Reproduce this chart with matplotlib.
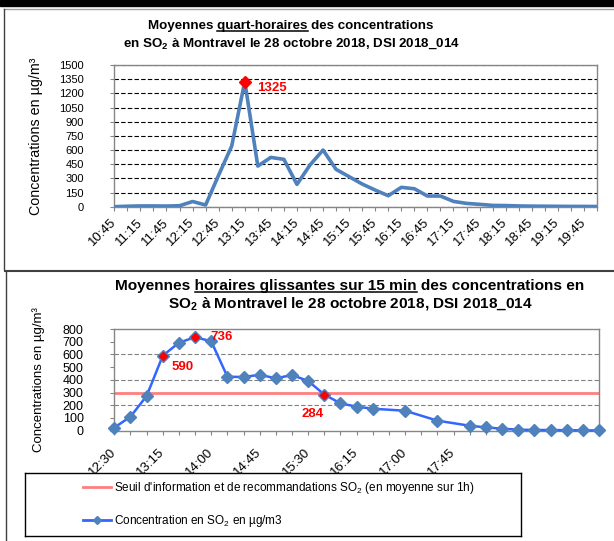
import matplotlib
matplotlib.use('Agg')

import matplotlib.pyplot as plt
from matplotlib.lines import Line2D
from matplotlib.patches import Rectangle

plt.rcParams['mathtext.default'] = 'regular'

SANS = ['Liberation Sans', 'DejaVu Sans']

# moyennes quart-horaires, 10:45 -> 20:00
qh_times = ['10:45', '11:00', '11:15', '11:30', '11:45', '12:00', '12:15', '12:30',
            '12:45', '13:00', '13:15', '13:30', '13:45', '14:00', '14:15', '14:30',
            '14:45', '15:00', '15:15', '15:30', '15:45', '16:00', '16:15', '16:30',
            '16:45', '17:00', '17:15', '17:30', '17:45', '18:00', '18:15', '18:30',
            '18:45', '19:00', '19:15', '19:30', '19:45', '20:00']
qh_values = [0, 5, 8, 8, 7, 10, 55, 18, 335, 642, 1325, 430, 522, 501, 236, 441,
             600, 395, 318, 240, 176, 116, 205, 190, 113, 113, 56, 35, 25, 14, 12, 8,
             6, 5, 4, 3, 3, 2]
qh_peak = '13:15'

# moyennes horaires glissantes, 12:30 -> 20:00 (None = pas de valeur)
gl_times = ['12:30', '12:45', '13:00', '13:15', '13:30', '13:45', '14:00', '14:15',
            '14:30', '14:45', '15:00', '15:15', '15:30', '15:45', '16:00', '16:15',
            '16:30', '16:45', '17:00', '17:15', '17:30', '17:45', '18:00', '18:15',
            '18:30', '18:45', '19:00', '19:15', '19:30', '19:45', '20:00']
gl_values = [24, 110, 273, 590, 692, 736, 703, 425, 422, 440, 412, 438, 391, 284, 215,
             189, 173, None, 157, None, 79, None, 39, 26, 16, 8, 6, 5, 4, 3, 2]
gl_labels = ['12:30', '13:15', '14:00', '14:45', '15:30', '16:15', '17:00', '17:45']
gl_marked = ['13:15', '13:45', '15:45']
seuil = 300

W, H = 614, 541
fig = plt.figure(figsize=(W / 100, H / 100), dpi=100)
renderer = fig.canvas.get_renderer()


def fx(px):
	return px / W


def fy(py):
	return 1 - py / H


def largeur(s, size):
	t = fig.text(0, 0, s, fontsize=size, fontweight='bold', family=SANS)
	w = t.get_window_extent(renderer).width
	t.remove()
	return w


def titre(xc, y, s, size, souligne=None, ul_off=2.5):
	fig.text(fx(xc), fy(y), s, ha='center', va='baseline', fontsize=size,
	         fontweight='bold', family=SANS)
	if souligne:
		i = s.index(souligne)
		pre = s[:i]
		x0 = xc - largeur(s, size) / 2
		esp = largeur('a a', size) - largeur('aa', size)
		a = x0 + largeur(pre.rstrip(), size) + esp
		b = x0 + largeur(pre + souligne, size)
		fig.add_artist(Line2D([fx(a), fx(b)], [fy(y + ul_off)] * 2, color='black', lw=1.1,
		                      transform=fig.transFigure))


def style_axes(ax, ylab, ysize, ylab_x):
	for sp in ax.spines.values():
		sp.set_color('#868686')
		sp.set_linewidth(1)
	ax.tick_params(axis='both', colors='#868686', length=3, width=0.8, direction='out')
	ax.tick_params(axis='both', labelcolor='black')
	ax.tick_params(axis='y', pad=19)
	ax.set_ylabel(ylab, fontsize=ysize, family=SANS)
	ax.yaxis.set_label_coords(ylab_x, 0.5)
	ax.set_axisbelow(True)


# cadres
fig.add_artist(Rectangle((0, fy(6)), 1, 6 / H, transform=fig.transFigure, color='black'))
fig.add_artist(Line2D([fx(4), 1], [fy(9)] * 2, color='#a0a0a0', lw=1, transform=fig.transFigure))
fig.add_artist(Line2D([fx(4)] * 2, [fy(9), fy(269)], color='#404040', lw=1, transform=fig.transFigure))
fig.add_artist(Line2D([fx(5), 1], [fy(270.5)] * 2, color='#404040', lw=1.5, transform=fig.transFigure))
fig.add_artist(Line2D([fx(5.5)] * 2, [fy(270.5), 0], color='#404040', lw=1, transform=fig.transFigure))

# graphique du haut
ax1 = fig.add_axes([fx(114.3), fy(206.7), fx(597 - 114.3), (206.7 - 65) / H])
x1 = list(range(len(qh_times)))
ax1.plot(x1, qh_values, color='#4f81bd', lw=2.6, zorder=3)
ip = qh_times.index(qh_peak)
ax1.plot(ip, qh_values[ip], 'D', color='red', ms=6, zorder=4, clip_on=False)
ax1.annotate(str(qh_values[ip]), (ip, qh_values[ip]), xytext=(12, -6),
             textcoords='offset pixels', color='red', fontweight='bold', fontsize=9.5,
             family=SANS, ha='left', va='center')
ax1.set_xlim(0, len(qh_times) - 1)
ax1.set_ylim(0, 1500)
ax1.set_yticks(range(0, 1501, 150))
ax1.set_xticks(x1)
ax1.set_xticklabels([t if k % 2 == 0 else '' for k, t in enumerate(qh_times)],
                    rotation=45, ha='right', va='center', rotation_mode='anchor',
                    fontsize=9.5, family=SANS)
for lab in ax1.get_yticklabels():
	lab.set_fontsize(8)
	lab.set_family(SANS)
ax1.tick_params(axis='x', pad=7)
ax1.yaxis.grid(True, color='black', ls=(0, (4, 2)), lw=0.8)
style_axes(ax1, 'Concentrations en µg/m³', 10.3, -0.148)

titre(291, 28.5, 'Moyennes quart-horaires des concentrations', 9.6, 'quart-horaires', 2.7)
titre(291, 46.5, 'en SO$_2$ à Montravel le 28 octobre 2018, DSI 2018_014', 9.6)

# graphique du bas
ax2 = fig.add_axes([fx(114.3), fy(430.7), fx(599 - 114.3), (430.7 - 329) / H])
h_seuil = ax2.axhline(seuil, color='#ff7f7f', lw=2, zorder=2)
x2 = [k for k, v in enumerate(gl_values) if v is not None]
y2 = [v for v in gl_values if v is not None]
ax2.plot(x2, y2, color='#3366ff', lw=1.8, marker='D', ms=6, mfc='#4f81bd', mec='#4f81bd',
         zorder=3, clip_on=False)
offsets = {'13:15': (9, -11, 'left'), '13:45': (15, 0, 'left'), '15:45': (-1, -19, 'right')}
for t in gl_marked:
	k = gl_times.index(t)
	ax2.plot(k, gl_values[k], 'D', color='red', ms=4.5, zorder=4)
	dx, dy, ha = offsets[t]
	ax2.annotate(str(gl_values[k]), (k, gl_values[k]), xytext=(dx, dy),
	             textcoords='offset pixels', color='red', fontweight='bold', fontsize=9.5,
	             family=SANS, ha=ha, va='center')
ax2.set_xlim(0, len(gl_times) - 1)
ax2.set_ylim(0, 800)
ax2.set_yticks(range(0, 801, 100))
ax2.set_xticks(range(len(gl_times)))
ax2.set_xticklabels([t if t in gl_labels else '' for t in gl_times],
                    rotation=45, ha='right', va='center', rotation_mode='anchor',
                    fontsize=9.5, family=SANS)
for lab in ax2.get_yticklabels():
	lab.set_fontsize(9)
	lab.set_family(SANS)
ax2.tick_params(axis='x', pad=11)
for g in (200, 400, 600):
	ax2.axhline(g, color='#808080', ls=(0, (4, 2)), lw=0.8, zorder=1)
style_axes(ax2, 'Concentrations en µg/m³', 9.5, -0.143)

titre(350, 290, 'Moyennes horaires glissantes sur 15 min des concentrations en', 11.1,
      'horaires glissantes sur 15 min', 2.2)
titre(350, 307.5, 'SO$_2$ à Montravel le 28 octobre 2018, DSI 2018_014', 11.1)

# légende
axl = fig.add_axes([fx(25), fy(536), fx(521 - 25), (536 - 473) / H])
axl.set_xticks([])
axl.set_yticks([])
for sp in axl.spines.values():
	sp.set_color('black')
	sp.set_linewidth(1)
h_conc = Line2D([], [], color='#3366ff', lw=2, marker='D', ms=4, mfc='#4f81bd', mec='#4f81bd')
axl.legend(handles=[h_seuil, h_conc],
           labels=["Seuil d'information et de recommandations SO$_2$ (en moyenne sur 1h)",
                   'Concentration en SO$_2$ en µg/m3'],
           loc='center left', bbox_to_anchor=(47 / 496, 0.5), frameon=False,
           handlelength=2.4, handletextpad=0.25, labelspacing=1.45,
           prop={'family': SANS, 'size': 8.5})

fig.savefig('out.png', dpi=100)
